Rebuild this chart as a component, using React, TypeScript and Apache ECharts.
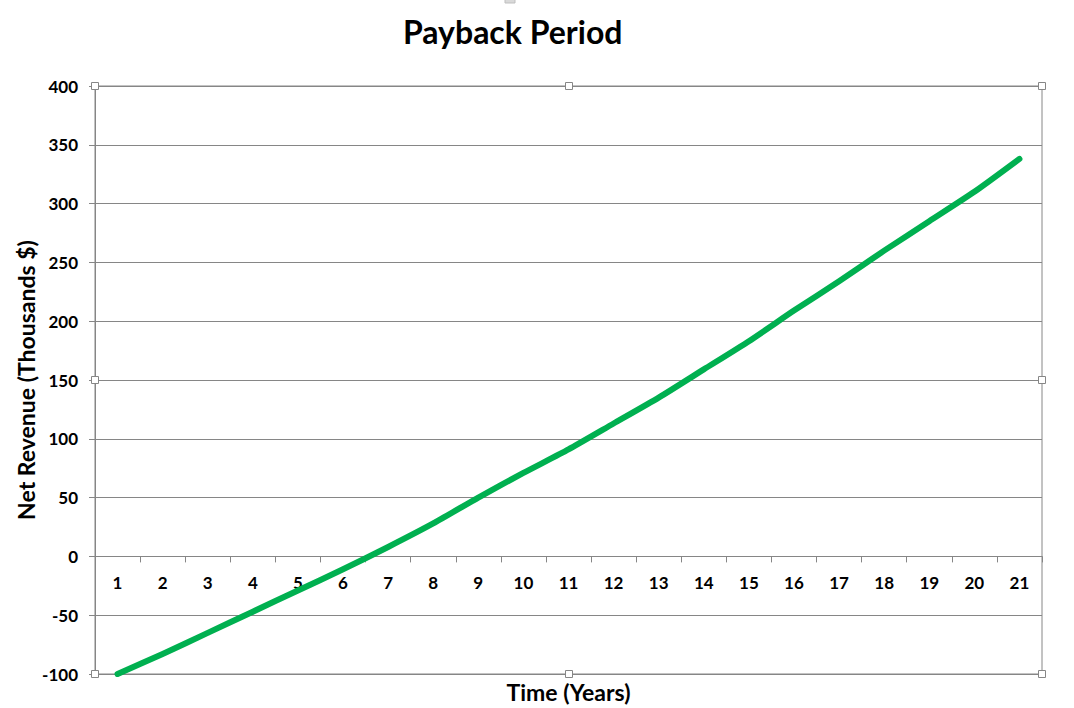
import React, { useEffect, useRef } from "react";
import * as echarts from "echarts";

const years = ["1","2","3","4","5","6","7","8","9","10","11","12","13","14","15","16","17","18","19","20","21"];
const netRevenue = [-100, -83, -65, -47, -29, -11, 8, 28, 50, 71, 91, 113, 135, 159, 183, 209, 234, 260, 285, 310, 338];
const titleText = "Payback Period";
const xName = "Time (Years)";
const yName = "Net Revenue (Thousands $)";

const FONT = "Lato, 'DejaVu Sans', sans-serif";
const GRAY = "#868686";

const handles: [number, number][] = [
  [95, 86], [569, 86], [1042, 86],
  [95, 380], [1042, 380],
  [95, 674], [569, 674], [1042, 674],
];

export default function App() {
  const ref = useRef<HTMLDivElement>(null);
  useEffect(() => {
    if (!ref.current) return;
    const chart = echarts.init(ref.current, undefined, { renderer: "svg" });
    chart.setOption({
      animation: false,
      backgroundColor: "#ffffff",
      title: {
        text: titleText,
        left: 398,
        top: 10,
        textStyle: { fontFamily: FONT, fontWeight: "bold", fontSize: 32, color: "#000" },
      },
      grid: {
        left: 95,
        right: 32,
        top: 86,
        bottom: 34,
        show: true,
        borderColor: GRAY,
        borderWidth: 1,
        outerBoundsMode: "none",
        containLabel: false,
      },
      xAxis: {
        type: "category",
        data: years,
        boundaryGap: true,
        name: xName,
        nameLocation: "middle",
        nameGap: 6,
        nameMoveOverlap: false,
        nameTextStyle: { fontFamily: FONT, fontWeight: "bold", fontSize: 23, color: "#000", verticalAlign: "top" },
        axisLine: { onZero: true, lineStyle: { color: GRAY, width: 1 } },
        axisTick: { show: true, alignWithLabel: false, length: 6, lineStyle: { color: GRAY } },
        axisLabel: { margin: -100, fontFamily: FONT, fontWeight: "bold", fontSize: 17, color: "#000" },
        splitLine: { show: false },
      },
      yAxis: {
        type: "value",
        min: -100,
        max: 400,
        interval: 50,
        name: yName,
        nameLocation: "middle",
        nameGap: 58,
        nameMoveOverlap: false,
        nameTextStyle: { fontFamily: FONT, fontWeight: "bold", fontSize: 23, color: "#000" },
        axisLine: { show: true, lineStyle: { color: GRAY, width: 1 } },
        axisTick: { show: true, length: 6, lineStyle: { color: GRAY } },
        axisLabel: { margin: 17, fontFamily: FONT, fontWeight: "bold", fontSize: 17, color: "#000" },
        splitLine: { show: true, lineStyle: { color: GRAY, width: 1 } },
      },
      series: [
        {
          type: "line",
          data: netRevenue,
          showSymbol: false,
          smooth: 0.2,
          lineStyle: { color: "#00B050", width: 6, cap: "round", join: "round" },
          itemStyle: { color: "#00B050" },
        },
      ],
      graphic: [
        ...handles.map(([x, y]) => ({
          type: "rect",
          shape: { x: x - 3.5, y: y - 3.5, width: 7, height: 7 },
          style: { fill: "#ffffff", stroke: GRAY, lineWidth: 1 },
          z: 100,
        })),
        {
          type: "rect",
          shape: { x: 505, y: -3, width: 10, height: 6 },
          style: { fill: "#d9d9d9", stroke: "#bfbfbf", lineWidth: 1 },
          z: 100,
        },
      ],
    });
    return () => chart.dispose();
  }, []);
  return (
    <div
      ref={ref}
      style={{ position: "fixed", left: 0, top: 0, width: 1074, height: 708, background: "#fff" }}
    />
  );
}
